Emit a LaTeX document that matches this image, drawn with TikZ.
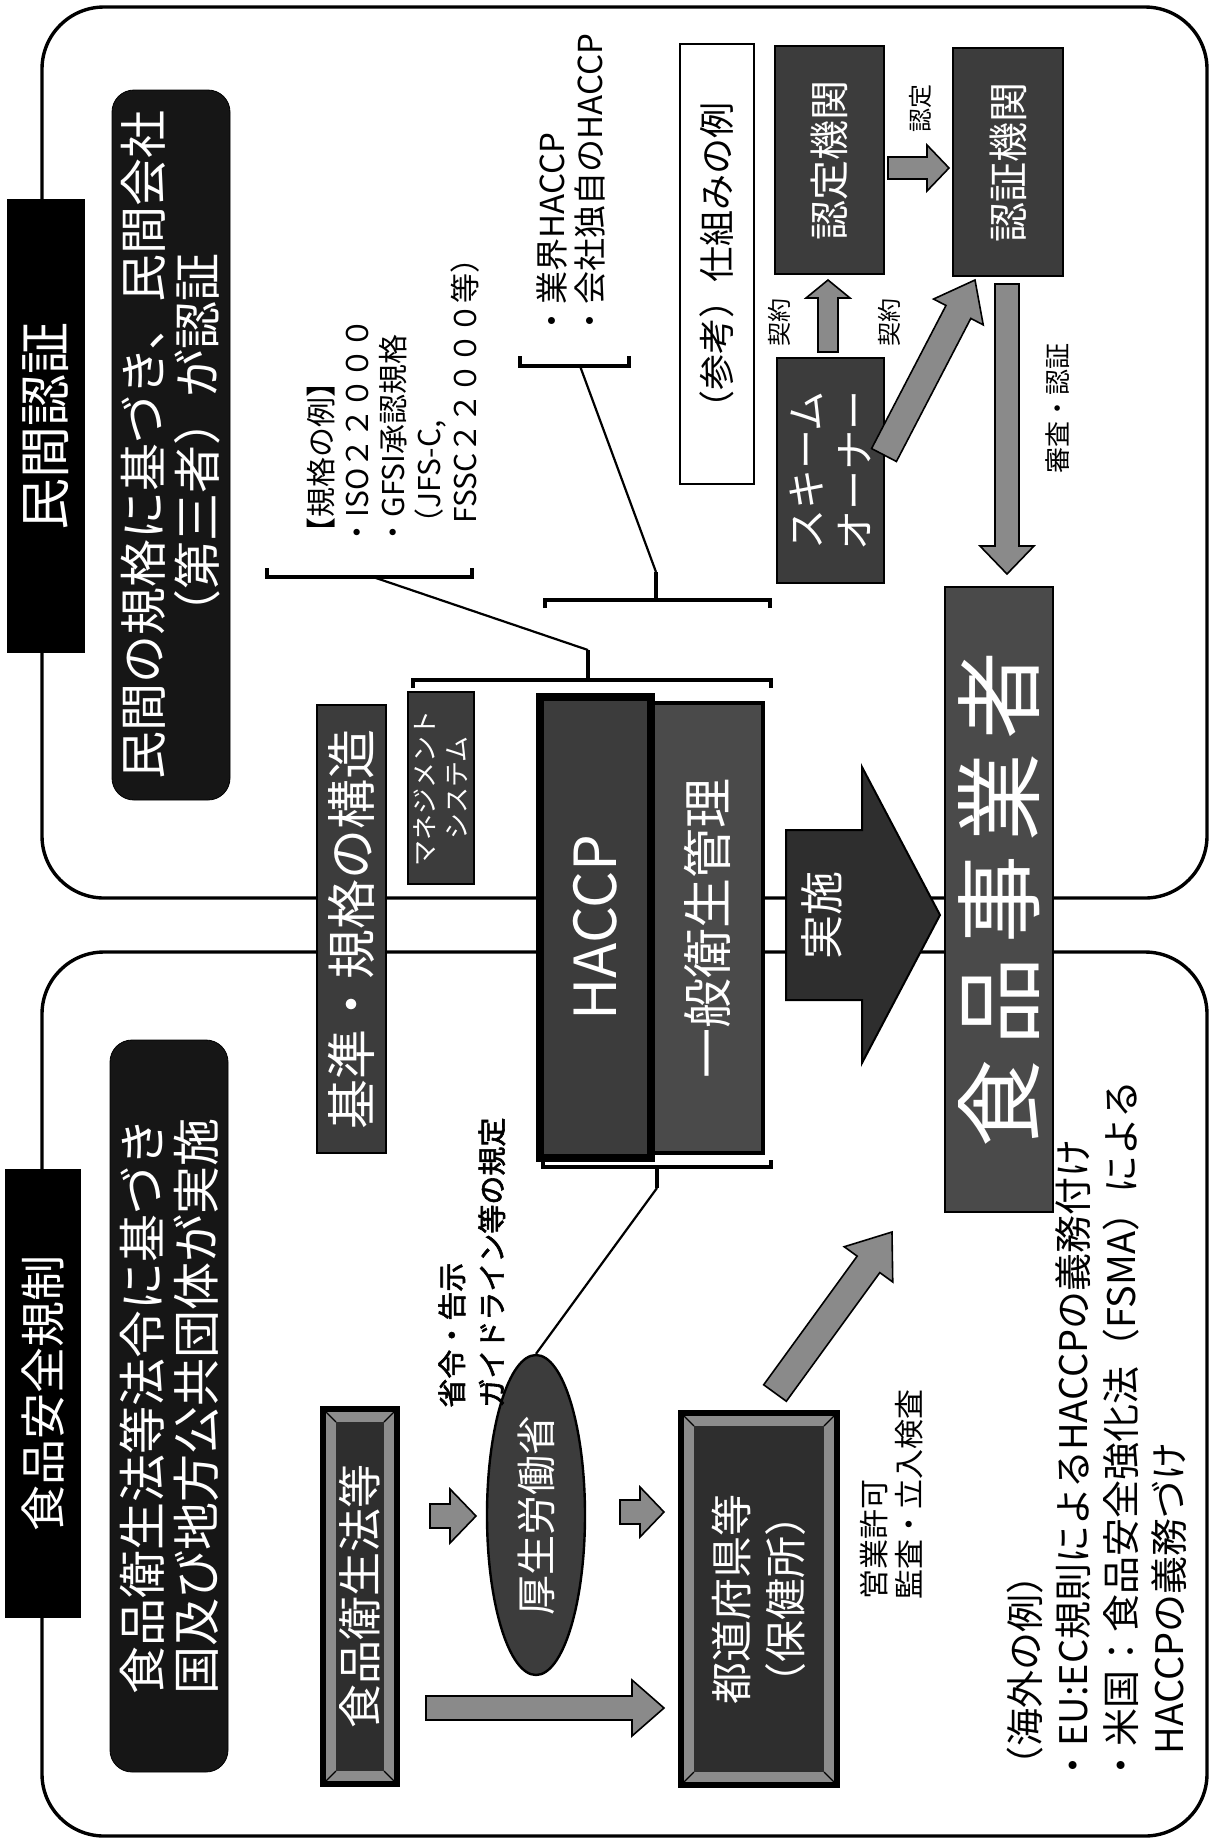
\documentclass[tikz,border=0pt]{standalone}
\usepackage{fontspec}
\setmainfont{Noto Sans CJK JP}
\newfontfamily\jpb[FakeBold=2]{Noto Sans CJK JP}
\usetikzlibrary{shapes.geometric}
\definecolor{dk}{HTML}{161616}
\definecolor{dg}{HTML}{2E2E2E}
\definecolor{mg}{HTML}{3C3C3C}
\definecolor{lg}{HTML}{4A4A4A}
\definecolor{ag}{HTML}{8A8A8A}
\definecolor{bv}{HTML}{8C8C8C}
% box macro: name, x1, y1, x2, y2 (image px, y down), style, text
\newcommand\bx[7]{\node[#6,rotate=90,minimum width={((#5)-(#3))*0.5pt},minimum height={((#4)-(#2))*0.5pt}] (#1) at ({((#2)+(#4))/2},{((#3)+(#5))/2}) {#7};}
% block arrow: x1 y1 (tail) x2 y2 (tip) body-half head-half head-length style
\newcommand\barrow[8]{%
 \pgfmathsetmacro\adx{(#3)-(#1)}\pgfmathsetmacro\ady{(#4)-(#2)}%
 \pgfmathsetmacro\alen{veclen(\adx,\ady)}%
 \pgfmathsetmacro\aux{\adx/\alen}\pgfmathsetmacro\auy{\ady/\alen}%
 \pgfmathsetmacro\abx{(#3)-(#7)*(\aux)}\pgfmathsetmacro\aby{(#4)-(#7)*(\auy)}%
 \draw[#8] ({(#1)-(#5)*(\auy)},{(#2)+(#5)*(\aux)}) -- ({\abx-(#5)*(\auy)},{\aby+(#5)*(\aux)}) -- ({\abx-(#6)*(\auy)},{\aby+(#6)*(\aux)}) -- (#3,#4) -- ({\abx+(#6)*(\auy)},{\aby-(#6)*(\aux)}) -- ({\abx+(#5)*(\auy)},{\aby-(#5)*(\aux)}) -- ({(#1)+(#5)*(\auy)},{(#2)-(#5)*(\aux)}) -- cycle;}
% bevelled box: name x1 y1 x2 y2 fontstyle text
\newcommand\bevelbox[7]{%
 \fill[black] (#2,#3) rectangle (#4,#5);
 \fill[bv] ({(#2)+4},{(#3)+4}) rectangle ({(#4)-4},{(#5)-4});
 \fill[dg] ({(#2)+14},{(#3)+14}) rectangle ({(#4)-14},{(#5)-14});
 \draw[black,line width=0.6pt] ({(#2)+4},{(#3)+4}) -- ({(#2)+14},{(#3)+14}) ({(#4)-4},{(#3)+4}) -- ({(#4)-14},{(#3)+14}) ({(#2)+4},{(#5)-4}) -- ({(#2)+14},{(#5)-14}) ({(#4)-4},{(#5)-4}) -- ({(#4)-14},{(#5)-14});
 \draw[black,line width=1.6pt] (#2,#3) rectangle (#4,#5);
 \node[wt,align=center,#6] (#1) at ({((#2)+(#4))/2},{((#3)+(#5))/2}) {#7};}
\newcommand\fz[2]{\fontsize{#1}{#2}\selectfont}
\begin{document}
\begin{tikzpicture}[x=0.5pt,y=-0.5pt,
  panel/.style={draw=black,line width=1.7pt,rounded corners=31pt},
  title/.style={fill=black,draw=black,line width=1pt,text=white,inner sep=1pt},
  dround/.style={fill=dk,draw=black,rounded corners=11pt,text=white,align=center,inner sep=1pt},
  dbox/.style={fill=mg,draw=black,line width=1pt,text=white,align=center,inner sep=1pt},
  hbox/.style={fill=mg,draw=black,line width=4pt,text=white,inner sep=1pt},
  ibox/.style={fill=lg,draw=black,line width=2pt,text=white,inner sep=1pt},
  sbox/.style={fill=lg,draw=black,line width=1pt,text=white,inner sep=1pt},
  wbox/.style={fill=white,draw=black,line width=1pt,inner sep=1pt},
  wt/.style={rotate=90,text=white,inner sep=0pt},
  t/.style={rotate=90,inner sep=0pt},
  garrow/.style={fill=ag,draw=black,line width=0.8pt},
  jarrow/.style={fill=dg,draw=black,line width=1pt},
  brk/.style={draw=black,line width=1.6pt},
  ln/.style={draw=black,line width=1.1pt}]
\useasboundingbox (0,0) rectangle (1216,1844);
\fill[white] (0,0) rectangle (1216,1844);

% panels
\draw[panel] (42,7) rectangle (1207,898);
\draw[panel] (42,952) rectangle (1207,1836);

% title labels
\bx{tA}{8}{200}{84}{652}{title,font=\fz{26}{30}}{民間認証}
\bx{tB}{6}{1170}{80}{1617}{title,font=\fz{23}{27}}{食品安全規制}

% dark rounded description boxes
\bx{dA}{112}{90}{230}{800}{dround,font=\fz{24}{27}}{民間の規格に基づき、民間会社\\（第三者）が認証}
\bx{dB}{110}{1040}{228}{1772}{dround,font=\fz{24}{27}}{食品衛生法等法令に基づき\\国及び地方公共団体が実施}

% centre structure
\bx{kj}{317}{705}{386}{1153}{dbox,font=\fz{25}{29}}{基準・規格の構造}
\bx{ms}{408}{692}{474}{884}{dbox,font=\fz{13}{16}}{マネジメント\\システム}
\bx{ip}{651}{703}{763}{1153}{ibox,font=\fz{25}{29}}{一般衛生管理}
\bx{hc}{540}{697}{651}{1158}{hbox,font=\fz{29}{33}}{HACCP}

% implementation arrow and food business operator
\draw[jarrow] (786,830) -- (862,830) -- (862,767) -- (940,915) -- (862,1063) -- (862,1000) -- (786,1000) -- cycle;
\node[wt,font=\fz{22}{26}] (js) at (822,915) {実施};
\bx{sj}{945}{587}{1053}{1212}{sbox,font=\fz{44}{48}}{食\hspace{7pt}品\hspace{7pt}事\hspace{7pt}業\hspace{7pt}者}

% examples of standards
\node[t,anchor=north west,align=left,font=\fz{15}{18}] (kk) at (307,548)
  {【規格の例】\\・ISO２２０００\\・GFSI承認規格\\\hspace{0.3em}（JFS-C,\\\hspace{0.8em}FSSC２２０００等）};
\node[t,anchor=north west,align=left,font=\fz{16.5}{19}] (gh) at (536,338)
  {・業界HACCP\\・会社独自のHACCP};

% brackets and leader lines
\draw[brk] (267,568) -- (267,577) -- (472,577) -- (472,568);
\coordinate (kkb) at (373,577);
\draw[brk] (413,688) -- (413,680) -- (771,680) -- (771,688);
\draw[brk] (588,680) -- (588,650) coordinate (s1);
\draw[ln] (kkb) -- (s1);
\draw[brk] (520,356) -- (520,366) -- (629,366) -- (629,356);
\coordinate (ghb) at (580,366);
\draw[brk] (545,608) -- (545,600) -- (770,600) -- (770,608);
\draw[brk] (656,600) -- (656,572) coordinate (s2);
\draw[ln] (ghb) -- (s2);

% scheme example
\bx{ref}{680}{44}{754}{484}{wbox,font=\fz{18}{22}}{（参考）仕組みの例}
\bx{so}{777}{358}{884}{583}{dbox,font=\fz{20}{24}}{スキーム\\オーナー}
\bx{nt}{775}{46}{884}{274}{dbox,font=\fz{20}{24}}{認定機関}
\bx{ns}{953}{48}{1063}{276}{dbox,font=\fz{20}{24}}{認証機関}
\barrow{828}{352}{828}{280}{10}{22}{18}{garrow}
\barrow{888}{168}{949}{168}{11}{23}{22}{garrow}
\barrow{884}{455}{975}{280}{14}{28}{36}{garrow}
\barrow{1007}{284}{1007}{574}{12}{27}{28}{garrow}
\node[t,font=\fz{12}{14}] (l1) at (779,322) {契約};
\node[t,font=\fz{12}{14}] (l2) at (889,322) {契約};
\node[t,font=\fz{12}{14}] (l3) at (920,108) {認定};
\node[t,anchor=west,font=\fz{13}{15}] (l4) at (1058,474) {審査・認証};

% public regulation side
\bevelbox{fe}{322}{1408}{398}{1785}{font=\fz{22}{26}}{食品衛生法等}
\node[ellipse,draw=black,line width=1.2pt,fill=mg,text=white,rotate=90,minimum width=160pt,minimum height=49pt,inner sep=0pt,font=\fz{20}{24}] (mh) at (536,1515) {厚生労働省};
\bevelbox{pf}{680}{1412}{838}{1786}{font=\fz{21}{27}}{都道府県等\\（保健所）}
\barrow{430}{1516}{476}{1516}{12}{27}{26}{garrow}
\barrow{620}{1512}{664}{1512}{12}{25}{24}{garrow}
\barrow{426}{1708}{664}{1708}{12}{28}{32}{garrow}
\barrow{775}{1393}{892}{1232}{14}{30}{40}{garrow}
\draw[brk] (543,1160) -- (543,1167) -- (771,1167) -- (771,1160);
\draw[brk] (657,1167) -- (657,1188) coordinate (s3);
\draw[ln] (s3) -- (mh.east);
\node[t,anchor=north west,align=left,font=\jpb\fz{14.5}{20}] (gl) at (438,1408)
  {省令・告示\\ガイドライン等の規定};
\node[t,anchor=north west,align=left,font=\fz{15}{17.5}] (eg) at (860,1600)
  {営業許可\\監査・立入検査};
\node[t,anchor=north west,align=left,font=\fz{19}{24}] (kg) at (1007,1785)
  {（海外の例）\\・EU:EC規則によるHACCPの義務付け\\・米国：食品安全強化法（FSMA）による\\\hspace{0.8em}HACCPの義務づけ};
\end{tikzpicture}
\end{document}
